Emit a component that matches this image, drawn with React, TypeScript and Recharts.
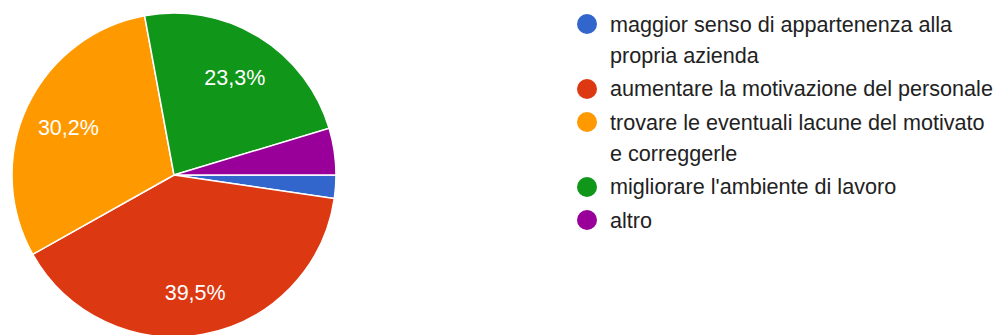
import { PieChart, Pie, Cell } from "recharts";

const categories = [
  "maggior senso di appartenenza alla propria azienda",
  "aumentare la motivazione del personale",
  "trovare le eventuali lacune del motivato e correggerle",
  "migliorare l'ambiente di lavoro",
  "altro",
];
const responses = [1, 17, 13, 10, 2];
const colors = ["#3366cc", "#dc3912", "#ff9900", "#109618", "#990099"];

const data = categories.map((name, i) => ({ name, value: responses[i] }));

const RADIAN = Math.PI / 180;
const FONT = "Arial, 'Liberation Sans', sans-serif";

const renderLabel = (props: any) => {
  const { cx, cy, midAngle, outerRadius, percent } = props;
  if (percent < 0.05) return null;
  const r = outerRadius * 0.72;
  const x = cx + r * Math.cos(-midAngle * RADIAN);
  const y = cy + r * Math.sin(-midAngle * RADIAN) + 3;
  return (
    <text
      x={x}
      y={y}
      fill="#fff"
      textAnchor="middle"
      dominantBaseline="central"
      fontSize={21.5}
      fontFamily={FONT}
    >
      {(percent * 100).toFixed(1).replace(".", ",")}%
    </text>
  );
};

export default function App() {
  return (
    <div
      style={{
        position: "absolute",
        left: 0,
        top: 0,
        width: 997,
        height: 335,
        background: "#fff",
        overflow: "hidden",
        fontFamily: FONT,
      }}
    >
      <PieChart
        width={997}
        height={335}
        margin={{ top: 0, right: 0, bottom: 0, left: 0 }}
      >
        <Pie
          data={data}
          dataKey="value"
          cx={174}
          cy={175}
          outerRadius={162}
          startAngle={0}
          endAngle={-360}
          stroke="#fff"
          strokeWidth={1.5}
          labelLine={false}
          label={renderLabel}
          isAnimationActive={false}
        >
          {data.map((d, i) => (
            <Cell key={d.name} fill={colors[i]} />
          ))}
        </Pie>
      </PieChart>
      <div style={{ position: "absolute", left: 577, top: 8.5, width: 440 }}>
        {data.map((d, i) => (
          <div
            key={d.name}
            style={{
              display: "flex",
              alignItems: "flex-start",
              marginBottom: 2.5,
            }}
          >
            <span
              style={{
                width: 20,
                height: 20,
                borderRadius: "50%",
                background: colors[i],
                marginTop: 5.5,
                marginRight: 13,
                flexShrink: 0,
              }}
            />
            <span
              style={{
                fontSize: 21.6,
                lineHeight: "31px",
                color: "#222",
                width: 390,
                flexShrink: 0,
              }}
            >
              {d.name}
            </span>
          </div>
        ))}
      </div>
    </div>
  );
}
